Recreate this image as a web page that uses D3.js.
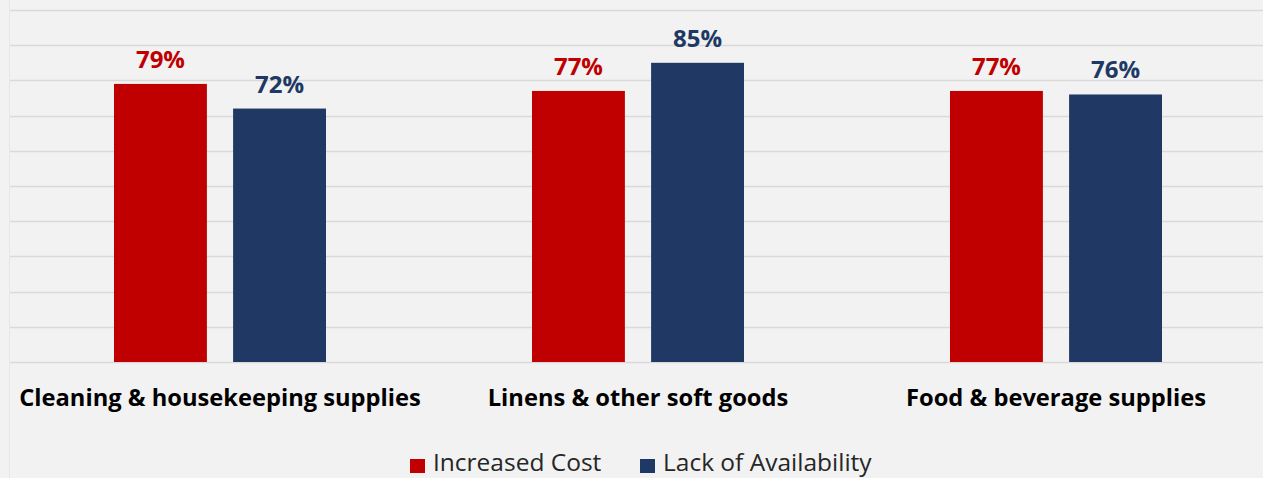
<!DOCTYPE html>
<html>
<head>
<meta charset="utf-8">
<script src="https://cdn.jsdelivr.net/npm/d3@7"></script>
<style>
  body { margin: 0; background: #f2f2f2; overflow: hidden; }
  svg { display: block; }
</style>
</head>
<body>
<svg id="chart"></svg>
<script>
// data
let categories = ["Cleaning & housekeeping supplies", "Linens & other soft goods", "Food & beverage supplies"];
let seriesNames = ["Increased Cost", "Lack of Availability"];
let increasedCost = [79, 77, 77];
let lackOfAvailability = [72, 85, 76];
let yTicks = [0, 10, 20, 30, 40, 50, 60, 70, 80, 90, 100];

let colors = ["#c00000", "#203864"];
let seriesValues = [increasedCost, lackOfAvailability];

let width = 1263;
let height = 478;
let fontName = "'Open Sans', 'Noto Sans', sans-serif";

let svg = d3.select("#chart").attr("width", width).attr("height", height);

svg.append("rect").attr("width", width).attr("height", height).attr("fill", "#f2f2f2");

// scales
let y = d3.scaleLinear().domain([0, 100]).range([362, 10]);
let x0 = d3.scaleBand().domain(categories).range([11, 1265]);
let bw = x0.bandwidth();
let x1 = d3.scaleBand().domain(seriesNames).range([bw * 0.2464, bw * 0.7536]).paddingInner(0.22);

// faint left border of the plot area
svg.append("line")
    .attr("x1", 9.5).attr("x2", 9.5)
    .attr("y1", 0).attr("y2", height)
    .attr("stroke", "#e6e6e6").attr("stroke-width", 1);

// gridlines
svg.append("g")
    .selectAll("line")
    .data(yTicks)
    .enter()
    .append("line")
    .attr("x1", 10)
    .attr("x2", width)
    .attr("y1", function(d){ return Math.round(y(d)) + 0.5; })
    .attr("y2", function(d){ return Math.round(y(d)) + 0.5; })
    .attr("stroke", "#d9d9d9")
    .attr("stroke-width", 1.5);

// bars and value labels
let groups = svg.append("g")
    .selectAll("g")
    .data(categories)
    .enter()
    .append("g")
    .attr("transform", function(d){ return "translate(" + x0(d) + ",0)"; });

let rows = function(d, i){
    return seriesNames.map(function(s, j){
        return {name: s, value: seriesValues[j][i], color: colors[j]};
    });
};

groups.selectAll("rect")
    .data(rows)
    .enter()
    .append("rect")
    .attr("x", function(d){ return x1(d.name); })
    .attr("y", function(d){ return y(d.value); })
    .attr("width", x1.bandwidth())
    .attr("height", function(d){ return y(0) - y(d.value); })
    .attr("fill", function(d){ return d.color; });

groups.selectAll("text")
    .data(rows)
    .enter()
    .append("text")
    .attr("x", function(d){ return x1(d.name) + x1.bandwidth() / 2; })
    .attr("y", function(d){ return y(d.value) - 16; })
    .attr("text-anchor", "middle")
    .attr("font-family", fontName)
    .attr("font-weight", "bold")
    .attr("font-size", 24)
    .attr("fill", function(d){ return d.color; })
    .text(function(d){ return d.value + "%"; });

// category axis labels
let xAxis = d3.axisBottom(x0).tickSize(0).tickPadding(0);
let axisG = svg.append("g").attr("transform", "translate(0," + y(0) + ")").call(xAxis);
axisG.select(".domain").remove();
axisG.selectAll("text")
    .attr("y", 44)
    .attr("dy", 0)
    .attr("font-family", fontName)
    .attr("font-weight", "bold")
    .attr("font-size", 23.7)
    .attr("fill", "#000");

// legend (bottom, partly clipped in the original)
let legendItems = [
    {name: seriesNames[0], color: colors[0], x: 410, textX: 433},
    {name: seriesNames[1], color: colors[1], x: 640, textX: 663}
];
let legend = svg.append("g");
legend.selectAll("rect")
    .data(legendItems)
    .enter()
    .append("rect")
    .attr("x", function(d){ return d.x; })
    .attr("y", 459)
    .attr("width", 15)
    .attr("height", 14)
    .attr("fill", function(d){ return d.color; });
legend.selectAll("text")
    .data(legendItems)
    .enter()
    .append("text")
    .attr("x", function(d){ return d.textX; })
    .attr("y", 471)
    .attr("font-family", fontName)
    .attr("font-size", 24.5)
    .attr("fill", "#262626")
    .text(function(d){ return d.name; });
</script>
</body>
</html>
